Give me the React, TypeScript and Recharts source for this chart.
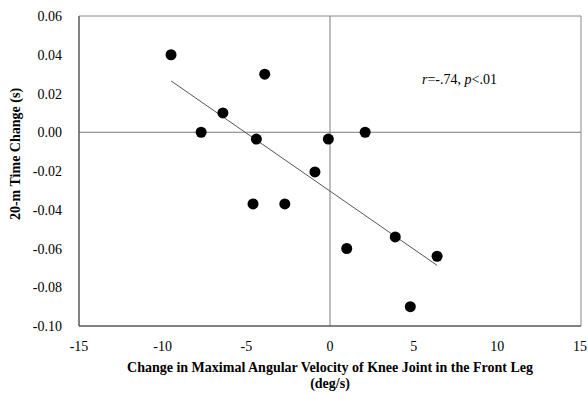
import React from "react";
import {
  ScatterChart,
  Scatter,
  XAxis,
  YAxis,
  ReferenceLine,
  ReferenceArea,
} from "recharts";

// Change in max angular velocity (deg/s) vs 20-m time change (s)
const velocityChange = [-9.5, -7.7, -6.4, -3.9, -4.4, -0.1, 2.1, -0.9, -4.6, -2.7, 1.0, 3.9, 6.4, 4.8];
const timeChange = [0.04, 0.0, 0.01, 0.03, -0.0035, -0.0035, 0.0, -0.0205, -0.037, -0.037, -0.06, -0.054, -0.064, -0.09];

// fitted trend line ends
const trendX = [-9.5, 6.4];
const trendY = [0.0265, -0.0687];

const xTicks = [-15, -10, -5, 0, 5, 10, 15];
const yTicks = [-0.1, -0.08, -0.06, -0.04, -0.02, 0, 0.02, 0.04, 0.06];

const points = velocityChange.map((x, i) => ({ x, y: timeChange[i] }));
const trend = trendX.map((x, i) => ({ x, y: trendY[i] }));

const FONT = '"Liberation Serif", "Times New Roman", serif';

const Dot = (props: any) => <circle cx={props.cx} cy={props.cy} r={5.5} fill="#000" />;

const XTick = (props: any) => (
  <text
    x={props.x}
    y={props.y}
    dy={11}
    textAnchor="middle"
    fontFamily={FONT}
    fontSize={14}
    fill="#000"
  >
    {props.payload.value}
  </text>
);

const YTick = (props: any) => (
  <text
    x={props.x}
    y={props.y}
    dy={5}
    textAnchor="end"
    fontFamily={FONT}
    fontSize={14}
    fill="#000"
  >
    {Number(props.payload.value).toFixed(2)}
  </text>
);

export default function App() {
  return (
    <div style={{ width: 588, height: 394, background: "#fff" }}>
      <style>{"body{margin:0}"}</style>
      <ScatterChart
        width={588}
        height={394}
        margin={{ top: 16, right: 7, bottom: 0, left: 0 }}
        style={{ fontFamily: FONT, overflow: "visible" }}
      >
        <ReferenceArea
          x1={-15}
          x2={15}
          y1={-0.1}
          y2={0.06}
          fill="none"
          stroke="#8a8a8a"
          strokeWidth={1}
        />
        <XAxis
          type="number"
          dataKey="x"
          domain={[-15, 15]}
          ticks={xTicks}
          allowDataOverflow
          height={68}
          tickLine={false}
          tickSize={0}
          tickMargin={14}
          axisLine={{ stroke: "#404040" }}
          tick={<XTick />}
          label={() => (
            <g fontFamily={FONT} fontWeight="bold" fontSize={14} fill="#000">
              <text x={330} y={372} textAnchor="middle">
                Change in Maximal Angular Velocity of Knee Joint in the Front Leg
              </text>
              <text x={330} y={388} textAnchor="middle">
                (deg/s)
              </text>
            </g>
          )}
        />
        <YAxis
          type="number"
          dataKey="y"
          domain={[-0.1, 0.06]}
          ticks={yTicks}
          allowDataOverflow
          width={79}
          tickLine={false}
          tickSize={0}
          tickMargin={17}
          axisLine={{ stroke: "#404040" }}
          tick={<YTick />}
          label={() => (
            <text
              x={15}
              y={154}
              transform="rotate(-90 15 154)"
              textAnchor="middle"
              dominantBaseline="central"
              fontFamily={FONT}
              fontWeight="bold"
              fontSize={14}
              fill="#000"
            >
              20-m Time Change (s)
            </text>
          )}
        />
        <ReferenceLine x={0} stroke="#7a7a7a" strokeWidth={1} />
        <ReferenceLine y={0} stroke="#7a7a7a" strokeWidth={1} />
        <Scatter
          data={trend}
          line={{ stroke: "#555", strokeWidth: 1 }}
          shape={() => null}
          isAnimationActive={false}
          legendType="none"
        />
        <Scatter data={points} shape={Dot} isAnimationActive={false} />
        <text x={422} y={84} fontFamily={FONT} fontSize={14} fill="#000">
          <tspan fontStyle="italic">r</tspan>
          <tspan>=-.74, </tspan>
          <tspan fontStyle="italic">p</tspan>
          <tspan>&lt;.01</tspan>
        </text>
      </ScatterChart>
    </div>
  );
}
